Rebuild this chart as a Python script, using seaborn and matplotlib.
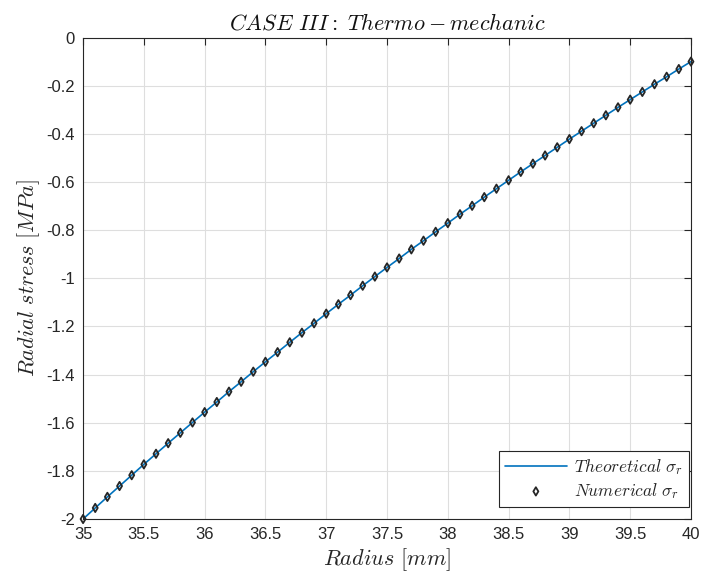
import numpy as np
import pandas as pd
import matplotlib
matplotlib.use("Agg")
import matplotlib.pyplot as plt
from matplotlib.ticker import FuncFormatter
import seaborn as sns

# Radius [mm] en radiell spänning [MPa]
radius = [35.0, 35.1, 35.2, 35.3, 35.4, 35.5, 35.6, 35.7, 35.8, 35.9,
          36.0, 36.1, 36.2, 36.3, 36.4, 36.5, 36.6, 36.7, 36.8, 36.9,
          37.0, 37.1, 37.2, 37.3, 37.4, 37.5, 37.6, 37.7, 37.8, 37.9,
          38.0, 38.1, 38.2, 38.3, 38.4, 38.5, 38.6, 38.7, 38.8, 38.9,
          39.0, 39.1, 39.2, 39.3, 39.4, 39.5, 39.6, 39.7, 39.8, 39.9,
          40.0]
sigma_theoretical = [-2.000, -1.954, -1.908, -1.863, -1.818, -1.773, -1.729, -1.685, -1.642, -1.599,
                     -1.556, -1.514, -1.471, -1.430, -1.388, -1.347, -1.307, -1.266, -1.226, -1.187,
                     -1.147, -1.108, -1.070, -1.031, -0.993, -0.955, -0.918, -0.880, -0.844, -0.807,
                     -0.771, -0.734, -0.699, -0.663, -0.628, -0.593, -0.558, -0.524, -0.490, -0.456,
                     -0.422, -0.389, -0.356, -0.323, -0.290, -0.258, -0.226, -0.194, -0.163, -0.131,
                     -0.100]
sigma_numerical = [-2.000, -1.954, -1.908, -1.863, -1.818, -1.773, -1.729, -1.685, -1.642, -1.599,
                   -1.556, -1.514, -1.471, -1.430, -1.388, -1.347, -1.307, -1.266, -1.226, -1.187,
                   -1.147, -1.108, -1.070, -1.031, -0.993, -0.955, -0.918, -0.880, -0.844, -0.807,
                   -0.771, -0.734, -0.699, -0.663, -0.628, -0.593, -0.558, -0.524, -0.490, -0.456,
                   -0.422, -0.389, -0.356, -0.323, -0.290, -0.258, -0.226, -0.194, -0.163, -0.131,
                   -0.100]

x_ticks = [35, 35.5, 36, 36.5, 37, 37.5, 38, 38.5, 39, 39.5, 40]
y_ticks = [-2, -1.8, -1.6, -1.4, -1.2, -1, -0.8, -0.6, -0.4, -0.2, 0]

sns.set_style("white")
plt.rcParams['font.family'] = ['Liberation Sans', 'DejaVu Sans']
plt.rcParams['mathtext.fontset'] = 'cm'
plt.rcParams['axes.unicode_minus'] = False

df = pd.DataFrame({'radius': radius, 'theo': sigma_theoretical, 'num': sigma_numerical})

fig = plt.figure(figsize=(7.04, 5.79), dpi=100)
ax = fig.add_axes([0.118, 0.1036, 0.8635, 0.8316])

sns.lineplot(data=df, x='radius', y='theo', ax=ax, color='#0072BD', linewidth=1.2,
             label=r'$Theoretical\ \sigma_r$')
sns.scatterplot(data=df, x='radius', y='num', ax=ax, marker='d', s=18,
                facecolor='none', edgecolor='#262626', linewidth=1.3,
                label=r'$Numerical\ \sigma_r$', zorder=3, clip_on=False)

ax.set_xlim(35, 40)
ax.set_ylim(-2, 0)
ax.set_xticks(x_ticks)
ax.set_yticks(y_ticks)
fmt = FuncFormatter(lambda v, p: '%g' % round(v, 2))
ax.xaxis.set_major_formatter(fmt)
ax.yaxis.set_major_formatter(fmt)

ax.grid(True, color='#dedede', linewidth=0.8)
ax.set_axisbelow(True)
for s in ax.spines.values():
    s.set_color('#262626')
    s.set_linewidth(0.8)
ax.tick_params(direction='in', length=5, width=0.8, color='#262626',
               labelsize=12, labelcolor='#262626', top=True, right=True, pad=6)

ax.set_xlabel(r'$Radius\ [mm]$', fontsize=16, color='#262626', labelpad=3)
ax.set_ylabel(r'$Radial\ stress\ [MPa]$', fontsize=16, color='#262626', labelpad=3)
ax.set_title(r'$CASE\ III:\ Thermo-mechanic$', fontsize=16, color='#111111', pad=6)

leg = ax.legend(loc='lower right', bbox_to_anchor=(0.9967, 0.025), borderaxespad=0,
                fontsize=12.5, handlelength=3.6, scatterpoints=1,
                fancybox=False, framealpha=1, edgecolor='#262626',
                borderpad=0.35, labelspacing=0.25, handletextpad=0.4)
leg.get_frame().set_linewidth(0.8)

fig.savefig('out.png', dpi=100)
